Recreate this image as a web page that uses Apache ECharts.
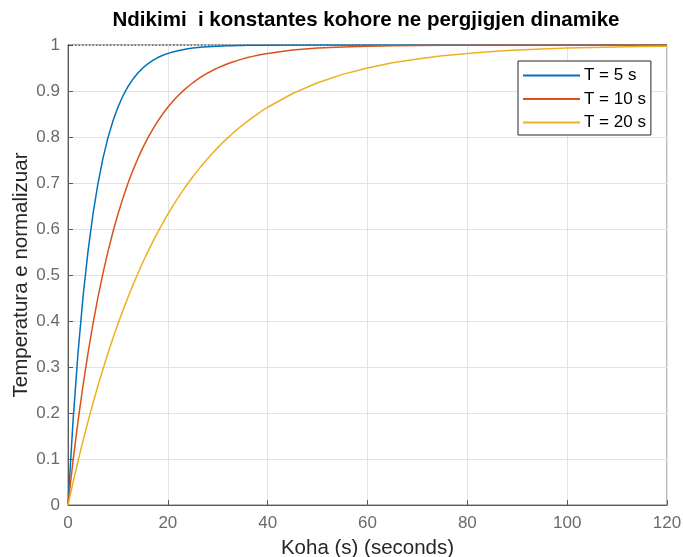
<!DOCTYPE html>
<html>
<head>
<meta charset="utf-8">
<script src="https://cdn.jsdelivr.net/npm/echarts@6/dist/echarts.min.js"></script>
<style>
  html, body { margin: 0; padding: 0; background: #fff; }
  #chart { width: 683px; height: 557px; }
</style>
</head>
<body>
<div id="chart"></div>
<script>
// Time samples (s)
const time = [
  0, 1, 2, 3, 4, 5, 6, 7, 8, 9, 10, 11, 12, 13, 14, 15, 16, 17, 18, 19, 20,
  21, 22, 23, 24, 25, 26, 27, 28, 29, 30, 31, 32, 33, 34, 35, 36, 37, 38, 39, 40,
  45, 50, 55, 60, 65, 70, 75, 80, 85, 90, 95, 100, 105, 110, 115, 120
];

// Normalised temperature response, T = 5 s
const resp5 = [
  0, 0.1813, 0.3297, 0.4512, 0.5507, 0.6321, 0.6988, 0.7534, 0.7981, 0.8347, 0.8647,
  0.8892, 0.9093, 0.9257, 0.9392, 0.9502, 0.9592, 0.9666, 0.9727, 0.9776, 0.9817,
  0.9850, 0.9877, 0.9899, 0.9918, 0.9933, 0.9945, 0.9955, 0.9963, 0.9970, 0.9975,
  0.9980, 0.9983, 0.9986, 0.9989, 0.9991, 0.9993, 0.9994, 0.9995, 0.9996, 0.9997,
  0.9999, 1, 1, 1, 1, 1, 1, 1, 1, 1, 1, 1, 1, 1, 1, 1
];

// Normalised temperature response, T = 10 s
const resp10 = [
  0, 0.0952, 0.1813, 0.2592, 0.3297, 0.3935, 0.4512, 0.5034, 0.5507, 0.5934, 0.6321,
  0.6671, 0.6988, 0.7275, 0.7534, 0.7769, 0.7981, 0.8173, 0.8347, 0.8504, 0.8647,
  0.8775, 0.8892, 0.8997, 0.9093, 0.9179, 0.9257, 0.9328, 0.9392, 0.9450, 0.9502,
  0.9550, 0.9592, 0.9631, 0.9666, 0.9698, 0.9727, 0.9753, 0.9776, 0.9798, 0.9817,
  0.9889, 0.9933, 0.9959, 0.9975, 0.9985, 0.9991, 0.9994, 0.9997, 0.9998, 0.9999,
  0.9999, 1, 1, 1, 1, 1
];

// Normalised temperature response, T = 20 s
const resp20 = [
  0, 0.0488, 0.0952, 0.1393, 0.1813, 0.2212, 0.2592, 0.2953, 0.3297, 0.3624, 0.3935,
  0.4231, 0.4512, 0.4780, 0.5034, 0.5276, 0.5507, 0.5726, 0.5934, 0.6133, 0.6321,
  0.6501, 0.6671, 0.6834, 0.6988, 0.7135, 0.7275, 0.7408, 0.7534, 0.7654, 0.7769,
  0.7878, 0.7981, 0.8080, 0.8173, 0.8262, 0.8347, 0.8428, 0.8504, 0.8577, 0.8647,
  0.8946, 0.9179, 0.9361, 0.9502, 0.9612, 0.9698, 0.9765, 0.9817, 0.9857, 0.9889,
  0.9913, 0.9933, 0.9948, 0.9959, 0.9968, 0.9975
];

// Steady-state reference level
const steadyLevel = 1;

const seriesNames = ['T = 5 s', 'T = 10 s', 'T = 20 s'];
const seriesColors = ['#0072BD', '#D95319', '#EDB120'];

const pairs = (vals) => time.map((t, i) => [t, vals[i]]);

const FONT = '"Liberation Sans", Arial, Helvetica, sans-serif';

const chart = echarts.init(document.getElementById('chart'), null, { renderer: 'canvas' });

chart.setOption({
  animation: false,
  backgroundColor: '#ffffff',
  title: {
    text: 'Ndikimi  i konstantes kohore ne pergjigjen dinamike',
    left: 361,
    textAlign: 'center',
    top: 5,
    textStyle: { fontFamily: FONT, fontSize: 20.5, fontWeight: 'bold', color: '#000' }
  },
  legend: {
    data: seriesNames,
    orient: 'vertical',
    left: 518,
    top: 61,
    padding: [6, 5, 4, 5],
    itemGap: 6.5,
    itemWidth: 57,
    itemHeight: 2,
    icon: 'rect',
    backgroundColor: '#fff',
    borderColor: '#262626',
    borderWidth: 1,
    borderRadius: 0,
    textStyle: { fontFamily: FONT, fontSize: 17, color: '#000', padding: [0, 0, 0, -1] }
  },
  grid: {
    left: 68,
    right: 16,
    top: 45,
    bottom: 52,
    outerBoundsMode: 'none',
    containLabel: false,
    show: true,
    borderColor: '#7a7a7a',
    borderWidth: 1,
    backgroundColor: '#fff'
  },
  xAxis: {
    type: 'value',
    min: 0,
    max: 120,
    interval: 20,
    name: 'Koha (s) (seconds)',
    nameLocation: 'middle',
    nameGap: 33,
    nameMoveOverlap: false,
    nameTextStyle: { fontFamily: FONT, fontSize: 20.5, color: '#262626' },
    axisLine: { show: true, onZero: false, lineStyle: { color: '#5a5a5a', width: 1 } },
    axisTick: { show: true, inside: true, length: 5, lineStyle: { color: '#5a5a5a' } },
    axisLabel: { fontFamily: FONT, fontSize: 17, color: '#6a6a6a', margin: 10 },
    splitLine: { show: true, lineStyle: { color: '#e2e2e2', width: 1 } }
  },
  yAxis: {
    type: 'value',
    min: 0,
    max: 1,
    interval: 0.1,
    name: 'Temperatura e normalizuar',
    nameLocation: 'middle',
    nameGap: 36,
    nameMoveOverlap: false,
    nameTextStyle: { fontFamily: FONT, fontSize: 20.5, color: '#262626' },
    axisLine: { show: true, lineStyle: { color: '#5a5a5a', width: 1 } },
    axisTick: { show: true, inside: true, length: 5, lineStyle: { color: '#5a5a5a' } },
    axisLabel: {
      fontFamily: FONT, fontSize: 17, color: '#6a6a6a', margin: 8,
      formatter: (v) => (Math.round(v * 10) / 10).toString()
    },
    splitLine: { show: true, lineStyle: { color: '#e2e2e2', width: 1 } }
  },
  series: [
    {
      name: 'steady',
      type: 'line',
      data: [[0, steadyLevel], [120, steadyLevel]],
      symbol: 'none',
      silent: true,
      lineStyle: { color: '#000', width: 1, type: [1.5, 2] },
      z: 1
    },
    ...seriesNames.map((name, k) => ({
      name,
      type: 'line',
      data: pairs([resp5, resp10, resp20][k]),
      symbol: 'none',
      smooth: false,
      color: seriesColors[k],
      lineStyle: { color: seriesColors[k], width: 1.5 },
      z: 3 + k
    }))
  ]
});
</script>
</body>
</html>
